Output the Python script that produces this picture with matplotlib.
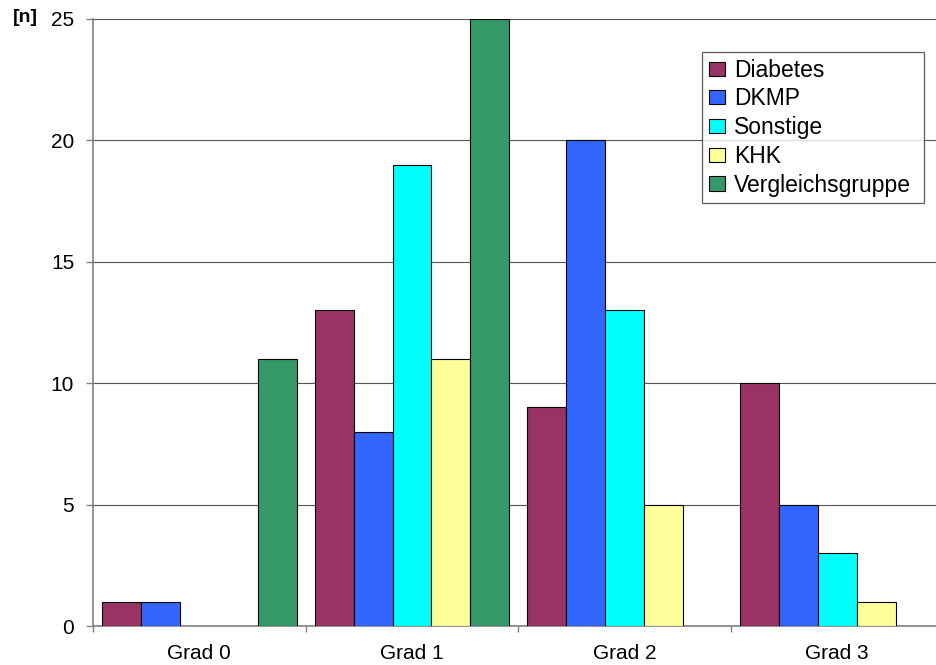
import numpy as np
import matplotlib.pyplot as plt
from matplotlib.ticker import FixedLocator, NullFormatter

plt.rcParams['font.family'] = ['Liberation Sans', 'DejaVu Sans']

# Fallzahlen je Grad
grade = ['Grad 0', 'Grad 1', 'Grad 2', 'Grad 3']
gruppen = ['Diabetes', 'DKMP', 'Sonstige', 'KHK', 'Vergleichsgruppe']
diabetes = [1, 13, 9, 10]
dkmp = [1, 8, 20, 5]
sonstige = [0, 19, 13, 3]
khk = [0, 11, 5, 1]
vergleich = [11, 25, 0, 0]
farben = ['#993366', '#3366FF', '#00FFFF', '#FFFF99', '#339966']

werte = [diabetes, dkmp, sonstige, khk, vergleich]

fig = plt.figure(figsize=(9.36, 6.65), dpi=100)
ax = fig.add_axes([93 / 936, 39 / 665, 850.6 / 936, 607 / 665])

x = np.arange(len(grade))
breite = 1 / 5.47
for i, (name, w, f) in enumerate(zip(gruppen, werte, farben)):
    # Balken mit Wert 0 ohne Rand, sonst sieht man einen Strich auf der Achse
    kanten = ['black' if v > 0 else 'none' for v in w]
    ax.bar(x + (i - 2) * breite, w, width=breite, color=f, edgecolor=kanten,
           linewidth=0.8, label=name, zorder=3)

ax.set_xlim(-0.5, 3.5)
ax.set_ylim(0, 25)
ax.set_yticks([0, 5, 10, 15, 20, 25])

# Kategoriegrenzen als Striche, Beschriftung mittig
ax.xaxis.set_major_locator(FixedLocator(np.arange(-0.5, 4, 1)))
ax.xaxis.set_major_formatter(NullFormatter())
ax.xaxis.set_minor_locator(FixedLocator(x))
ax.set_xticklabels(grade, minor=True)
ax.tick_params(axis='x', which='major', length=4.5, width=1, color='#808080', direction='out')
ax.tick_params(axis='x', which='minor', length=0, pad=13, labelsize=15)
ax.tick_params(axis='y', length=5, width=1, color='#808080', pad=8.5, labelsize=15)

ax.grid(axis='y', color='#555555', linewidth=0.8, zorder=0)
ax.set_axisbelow(True)
for s in ['top', 'right']:
    ax.spines[s].set_visible(False)
for s in ['left', 'bottom']:
    ax.spines[s].set_color('#808080')
    ax.spines[s].set_linewidth(1.2)

leg = ax.legend(loc='upper left', bbox_to_anchor=(0.716, 0.697, 0.261, 0.249),
                mode='expand', fontsize=16.5, frameon=True, fancybox=False,
                edgecolor='#333333', handlelength=0.7, handleheight=0.57,
                handletextpad=0.4, labelspacing=0.25, borderpad=0.3,
                borderaxespad=0)
leg.get_frame().set_linewidth(0.9)
for h in leg.legend_handles:
    h.set_edgecolor('black')
    h.set_linewidth(0.8)

fig.text(13 / 936, 1 - 18 / 665, '[n]', fontsize=14, fontweight='bold', va='center')

fig.savefig('out.png', dpi=100)
